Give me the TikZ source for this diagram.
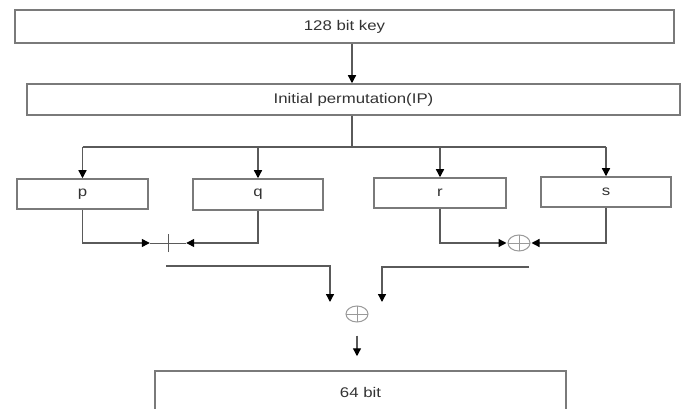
\documentclass[tikz,border=0pt]{standalone}
\usepackage{fontspec}
\setmainfont{Liberation Sans}
\usetikzlibrary{arrows.meta,shapes.geometric}
\definecolor{boxgray}{HTML}{7A7A7A}
\definecolor{linegray}{HTML}{5A5A5A}
\definecolor{textgray}{HTML}{333333}
\definecolor{xorgray}{HTML}{9A9A9A}
\newcommand{\widetxt}[1]{\scalebox{1.2}[1]{#1}}
\begin{document}
\begin{tikzpicture}[x=1pt,y=-1pt,
  line/.style={draw=linegray,line width=1.3pt},
  arr/.style={line,-{Triangle[length=8pt,width=8pt,color=black]}},
  box/.style={draw=boxgray,line width=1.5pt,rectangle,inner sep=0pt,
    font=\fontsize{14}{16}\selectfont,text=textgray},
  xorop/.style={ellipse,draw=xorgray,line width=1pt,minimum width=22pt,minimum height=16pt,inner sep=0pt,
    path picture={\draw[xorgray,line width=1pt]
      (path picture bounding box.north) -- (path picture bounding box.south)
      (path picture bounding box.west) -- (path picture bounding box.east);}},
  plusmark/.style={rectangle,inner sep=0pt,minimum width=36pt,minimum height=18pt}]
\useasboundingbox (0,0) rectangle (686,409);
\clip (0,0) rectangle (686,409);
\fill[white] (0,0) rectangle (686,409);

\node[box,minimum width=659pt,minimum height=33pt] (key) at (344.5,26.5) {\widetxt{128 bit key}};
\node[box,minimum width=653pt,minimum height=31pt] (ip) at (353.5,99.5) {\widetxt{Initial permutation(IP)}};
\node[box,minimum width=131pt,minimum height=30pt] (p) at (82.5,194) {\widetxt{p}};
\node[box,minimum width=130pt,minimum height=31pt] (q) at (258,194.5) {\widetxt{q}};
\node[box,minimum width=132pt,minimum height=30pt] (r) at (440,193) {\widetxt{r}};
\node[box,minimum width=130pt,minimum height=30pt] (s) at (606,192) {\widetxt{s}};
\node[box,minimum width=411pt,minimum height=42pt] (out) at (360.5,392) {\widetxt{64 bit}};

\node[plusmark] (plus1) at (168,243) {};
\node[xorop] (xor1) at (519,243) {};
\node[xorop] (xor2) at (357,314) {};

\coordinate (sp) at (352,0);
\coordinate (br) at (352,147);
\coordinate (l1) at (166,266);
\coordinate (l2) at (529,267);
\coordinate (t1) at (330,302);
\coordinate (t2) at (382,302);

\draw[arr] (key.south -| sp) -- (ip.north -| sp);
\draw[line] (ip.south -| br) -- (br);
\draw[line] (p.north |- br) -- (s.north |- br);
\draw[arr] (p.north |- br) -- (p.north);
\draw[arr] (q.north |- br) -- (q.north);
\draw[arr] (r.north |- br) -- (r.north);
\draw[arr] (s.north |- br) -- (s.north);

\draw[line,line width=1pt] (plus1.west) -- (plus1.east);
\draw[line,line width=1pt] ([yshift=-9pt]plus1.center) -- ([yshift=9pt]plus1.center);
\draw[arr] (p.south) |- (plus1.west);
\draw[arr] (q.south) |- (plus1.east);

\draw[arr,shorten >=1pt] (r.south) |- (xor1.west);
\draw[arr,shorten >=1pt] (s.south) |- (xor1.east);

\draw[arr] (l1) -| (t1);
\draw[arr] (l2) -| (t2);
\draw[arr,shorten <=13pt,shorten >=14pt] (xor2.south) -- (xor2.south |- out.north);
\end{tikzpicture}
\end{document}
